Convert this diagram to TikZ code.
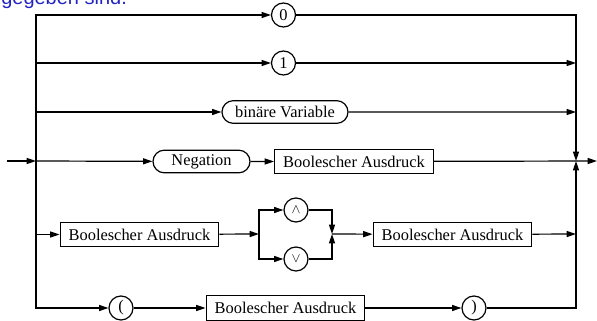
\documentclass[tikz,border=0pt]{standalone}
\usepackage{fontspec}
\setmainfont{Liberation Serif}
\setsansfont{Liberation Sans}
\usepackage{tikz}
\usetikzlibrary{positioning}
\usetikzlibrary{arrows.meta,shapes.misc}
\definecolor{noteBlue}{RGB}{35,35,195}
\tikzset{
    syntaxLine/.style={line width=0.9pt},
    flowArrow/.style={syntaxLine, -{Triangle[length=7pt,width=4.5pt]}},
    terminalCircle/.style={draw, syntaxLine, circle, inner sep=0pt, minimum size=18pt,
		font=\fontsize{12.3}{14}\selectfont},
    terminalRound/.style={draw, syntaxLine, rounded rectangle, inner sep=0pt, minimum height=17pt,
		font=\fontsize{12.3}{14}\selectfont},
    nonTerminal/.style={draw, syntaxLine, rectangle, inner sep=0pt, minimum width=119pt, minimum height=17.5pt,
		font=\fontsize{12.3}{14}\selectfont}
}

\begin{document}
\begin{tikzpicture}[x=0.75pt,y=-0.75pt]
			\useasboundingbox (0,0) rectangle (597,321);
			\node[anchor=base west, inner sep=0pt, text=noteBlue, font=\sffamily\fontsize{15}{18}\selectfont] (note) at (1,5) {gegeben sind.};
			% junctions
			\coordinate (entry) at (7,161);
			\coordinate (leftJoin) at (36,161);
			\coordinate (rightJoin) at (576,161);
			\coordinate (exit) at (597,161);
			\coordinate (rightOne) at (576,63);
			\coordinate (rightVar) at (576,112);
			\coordinate (rightOp) at (576,234);
			\coordinate (opSplit) at (259,234);
			\coordinate (opMerge) at (332,234);
			% terminals and non-terminals
			\node[terminalCircle] (zero) at (283.5,15) {0};
			\node[terminalCircle] (one) at (283.5,63) {1};
			\node[terminalRound, minimum width=94.5pt] (binVar) at (285,112) {binäre Variable};
			\node[terminalRound, minimum width=72.75pt] (negation) at (201.5,161.5) {Negation};
			\node[nonTerminal] (exprNeg) at (354,161.5) {Boolescher Ausdruck};
			\node[nonTerminal] (exprLeft) at (139.5,234.5) {Boolescher Ausdruck};
			\node[terminalCircle, font=\fontsize{10}{12}\selectfont] (andOp) at (296,210) {$\wedge$};
			\node[terminalCircle, font=\fontsize{10}{12}\selectfont] (orOp) at (296,259) {$\vee$};
			\node[nonTerminal] (exprRight) at (452.5,234.5) {Boolescher Ausdruck};
			\node[terminalCircle] (leftPar) at (121,308) {(};
			\node[nonTerminal, minimum height=18.5pt] (exprPar) at (285.5,308) {Boolescher Ausdruck};
			\node[terminalCircle] (rightPar) at (474,308) {)};
			% connectors
			\draw[flowArrow] (entry) -- (leftJoin);
			\draw[flowArrow] (leftJoin) |- (zero);
			\draw[flowArrow] (leftJoin) |- (one);
			\draw[flowArrow] (leftJoin) |- (binVar);
			\draw[flowArrow] (leftJoin) -- (negation);
			\draw[flowArrow] (leftJoin) |- (exprLeft);
			\draw[flowArrow] (leftJoin) |- (leftPar);
			\draw[flowArrow] (zero) -| (rightJoin);
			\draw[flowArrow] (one) -- (rightOne);
			\draw[flowArrow] (binVar) -- (rightVar);
			\draw[flowArrow] (negation) -- (exprNeg);
			\draw[flowArrow] (exprNeg) -- (exit);
			\draw[flowArrow] (exprLeft) -- (opSplit);
			\draw[flowArrow] (opSplit) |- (andOp);
			\draw[flowArrow] (opSplit) |- (orOp);
			\draw[flowArrow] (andOp) -| (opMerge);
			\draw[flowArrow] (orOp) -| (opMerge);
			\draw[flowArrow] (opMerge) -- (exprRight);
			\draw[flowArrow] (exprRight) -- (rightOp);
			\draw[flowArrow] (leftPar) -- (exprPar);
			\draw[flowArrow] (exprPar) -- (rightPar);
			\draw[flowArrow] (rightPar) -| (rightJoin);
\end{tikzpicture}
\end{document}
